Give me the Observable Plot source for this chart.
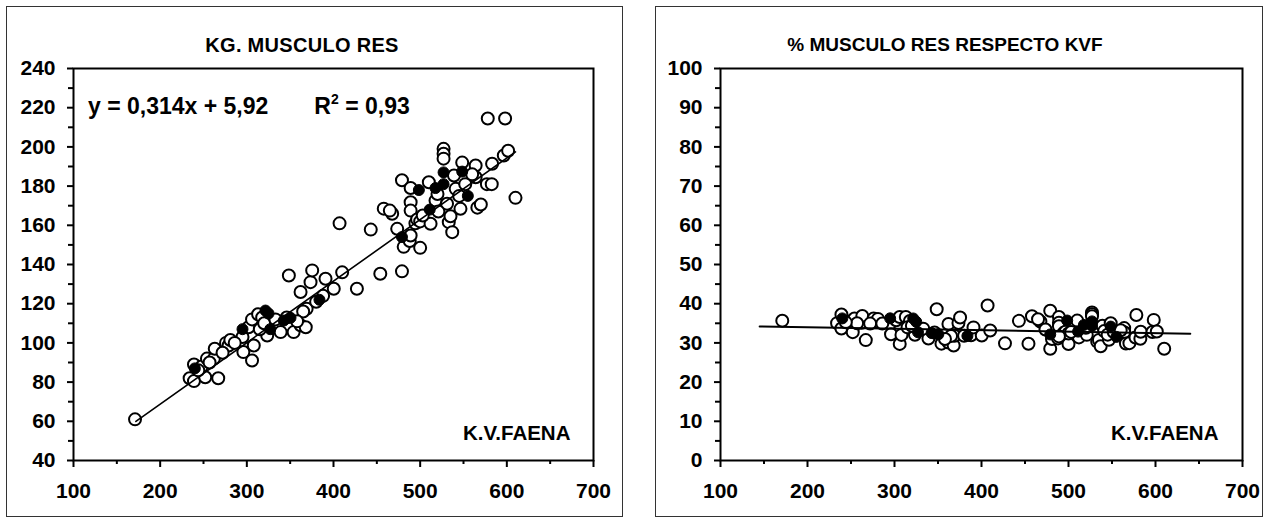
<!DOCTYPE html>
<html><head><meta charset="utf-8">
<script src="https://cdn.jsdelivr.net/npm/d3@7"></script>
<script src="https://cdn.jsdelivr.net/npm/@observablehq/plot@0.6"></script>
<style>
body{margin:0;background:#fff;font-family:"Liberation Sans",Arial,sans-serif;}
#root{position:relative;width:1268px;height:520px;overflow:hidden;}
.panel{position:absolute;border:1px solid #333;box-sizing:border-box;}
.txt{position:absolute;font-weight:bold;color:#000;white-space:nowrap;line-height:1;}
.chart{position:absolute;top:0;}
</style></head>
<body><div id="root"></div>
<script>
// K.V.FAENA (x) and KG. MUSCULO RES (y), open markers
const kvfOpen = [171,234,239,252,267,239,248,254,262,263,276,279,281,295,296,306,308,302,306,313,317.7,323.5,339,354,362,368,369,365,362,373.5,375.4,388,390.8,400.3,410,348.5,427,407,443,454,479,458,467.7,465,473.5,481,488,500,479,489,489,489,494.5,496.5,500,510,512,517.7,531,527,527,527,533,535,537,539,541,546.5,548.5,564,564,566,570,577,582.6,583,578,598,596.5,601.5,610,489,257,272,286,315,346,358,521,545,552,503,320,244,333,380,520,560];
const kgOpen  = [61,82,80.5,82.5,82,89,88,92,92,97,100,98.7,101.5,103,95.3,91,98.7,108,112,114.6,113,103.8,105.5,105.5,109,108,117.4,116,126,131,137,124,132.7,127.6,136,134.4,127.6,161,157.8,135.3,136.5,168.5,165.9,167.5,158.2,149,152,148.5,183,179,171.8,167.5,161,163,162,182,160.8,172.6,171,199,196.5,194,161.6,164.6,156.5,185.4,178.6,168.4,192,190.5,184.5,169,170.6,181,181,191.4,214.5,214.5,195.6,198,174,154.8,90,95,100,107,113,111,167,175,181,165,110,86,112,121,176,186];
// filled markers
const kvfFilled = [240,295,321.5,325,327,342.6,350.4,383.8,479,498.5,511,517.7,527,527,548.5,555];
const kgFilled  = [87,107,116.5,115,107,111.4,112.8,122,154,178,168,179,187,181,187.4,175];
// trend lines
const trendLeftX = [172, 610];
const trendLeftCoef = {slope: 0.314, intercept: 5.92};
const trendRightX = [145, 640];
const trendRightCoef = {slope: -0.0038, intercept: 34.75};
// tick labels
const xTicks = [100,200,300,400,500,600,700];
const xMinor = [150,250,350,450,550,650];
const yTicksLeft = [40,60,80,100,120,140,160,180,200,220,240];
const yMinorLeft = [50,70,90,110,130,150,170,190,210,230];
const yTicksRight = [0,10,20,30,40,50,60,70,80,90,100];
const yMinorRight = [5,15,25,35,45,55,65,75,85,95];

const openData = kvfOpen.map((x,i)=>({x, kg: kgOpen[i], pct: 100*kgOpen[i]/x}));
const filledData = kvfFilled.map((x,i)=>({x, kg: kgFilled[i], pct: 100*kgFilled[i]/x}));
const lineLeft = trendLeftX.map(x=>({x, y: trendLeftCoef.slope*x + trendLeftCoef.intercept}));
const lineRight = trendRightX.map(x=>({x, y: trendRightCoef.slope*x + trendRightCoef.intercept}));

const root = document.getElementById("root");
function addDiv(cls, css, html){const d=document.createElement("div");d.className=cls;Object.assign(d.style,css);d.innerHTML=html;root.appendChild(d);return d;}

addDiv("panel",{left:"6px",top:"6px",width:"617px",height:"511px"},"");
addDiv("panel",{left:"655px",top:"6px",width:"608px",height:"511px"},"");

function makeChart(opts){
  const {field, yDomain, yTicks, yMinor, line, mL, mR, lineW} = opts;
  return Plot.plot({
    width: 634, height: 520,
    marginLeft: mL, marginRight: mR, marginTop: 68, marginBottom: 60,
    style: {fontFamily: '"Liberation Sans", Arial, sans-serif', fontSize: "21px", fontWeight: "bold", color: "#000", background: "transparent"},
    x: {domain: [100, 700]},
    y: {domain: yDomain},
    marks: [
      Plot.axisX({ticks: xTicks, tickSize: 7, tickPadding: 16, strokeWidth: 2, label: null, tickFormat: d=>String(d)}),
      Plot.axisX({ticks: xMinor, tickSize: 4, text: null, strokeWidth: 2, label: null}),
      Plot.axisY({ticks: yTicks, tickSize: 6, tickPadding: 12, strokeWidth: 2, label: null, tickFormat: d=>String(d)}),
      Plot.axisY({ticks: yMinor, tickSize: 5, text: null, strokeWidth: 2, label: null}),
      Plot.frame({stroke: "#000", strokeWidth: 2}),
      Plot.dot(openData, {x: "x", y: field, r: 6, fill: "#fff", stroke: "#000", strokeWidth: 2}),
      Plot.line(line, {x: "x", y: "y", stroke: "#000", strokeWidth: lineW}),
      Plot.dot(filledData, {x: "x", y: field, r: 5.5, fill: "#000", stroke: "#000", strokeWidth: 1})
    ]
  });
}

const c1 = makeChart({field: "kg", yDomain: [40, 240], yTicks: yTicksLeft, yMinor: yMinorLeft, line: lineLeft, mL: 73, mR: 41, lineW: 1.6});
c1.classList.add("chart"); c1.style.left = "0px"; root.appendChild(c1);
const c2 = makeChart({field: "pct", yDomain: [0, 100], yTicks: yTicksRight, yMinor: yMinorRight, line: lineRight, mL: 86, mR: 26, lineW: 2});
c2.classList.add("chart"); c2.style.left = "634px"; root.appendChild(c2);

// titles and annotations
addDiv("txt",{top:"35px",fontSize:"20px",left:"302px",transform:"translateX(-50%)",letterSpacing:"0.3px"},"KG. MUSCULO RES");
addDiv("txt",{top:"35px",fontSize:"19px",left:"945px",transform:"translateX(-50%)"},"% MUSCULO RES RESPECTO KVF");
addDiv("txt",{top:"95px",left:"88px",fontSize:"23px"},'y = 0,314x + 5,92<span style="display:inline-block;width:46px"></span>R<sup style="font-size:14px;vertical-align:10px;line-height:0">2</sup> = 0,93');
addDiv("txt",{top:"423px",left:"463px",fontSize:"20.5px"},"K.V.FAENA");
addDiv("txt",{top:"423px",left:"1111px",fontSize:"20.5px"},"K.V.FAENA");
</script></body></html>
